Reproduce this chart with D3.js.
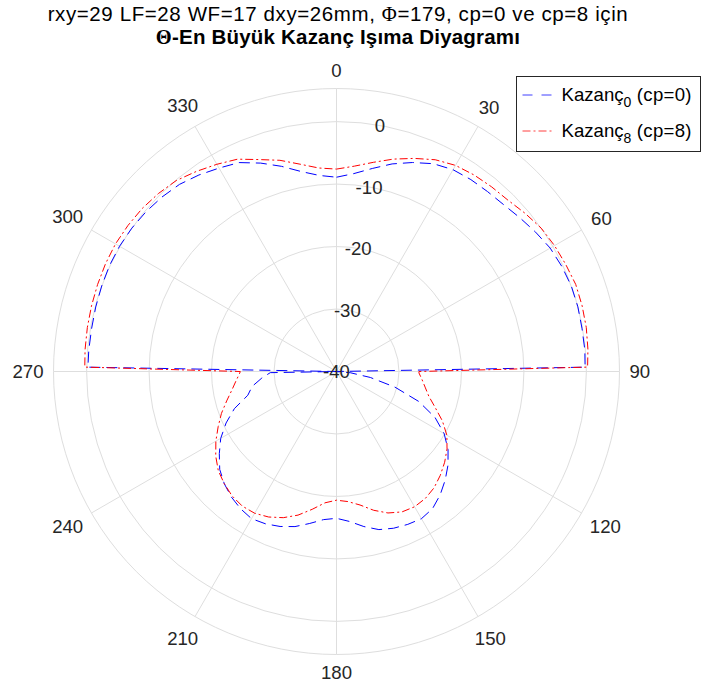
<!DOCTYPE html>
<meta charset="utf-8">
<style>
	body { margin: 0; background: #fff; font-family: "Liberation Sans", Arial, Helvetica, sans-serif; }
	text { fill: #262626; }
	.grid { fill: none; stroke: #dedede; stroke-width: 1; }
</style>
<body>
<svg id="polar" width="703" height="694"></svg>

<script src="https://cdn.jsdelivr.net/npm/d3@7"></script>
<script>
	// theta in degrees (0 at top, clockwise), gain in dB
	var thetaDeg = [0,5,10,15,20,25,30,35,40,45,50,55,60,65,70,75,80,85,89,90,91,
		95,100,105,110,115,120,125,130,135,140,145,150,155,160,165,170,175,180,
		185,190,195,200,205,210,215,220,225,230,235,240,245,250,255,260,265,269,270,271,
		275,280,285,290,295,300,305,310,315,320,325,330,335,340,345,350,355,360];

	var gainCp0 = [-8.9,-8.2,-7.0,-5.6,-4.4,-3.3,-2.7,-2.5,-2.4,-2.2,-1.7,-1.1,-0.5,-0.2,0.0,0.0,-0.1,-0.1,-0.2,-40,-40,
		-37.8,-34.5,-30.3,-26.0,-22.6,-20.1,-18.2,-16.7,-15.4,-14.2,-13.2,-12.8,-13.0,-13.3,-13.8,-14.8,-15.9,-16.5,
		-16.2,-15.3,-14.3,-13.6,-13.1,-12.8,-13.2,-13.8,-14.6,-15.6,-17.1,-18.6,-20.5,-22.6,-25.3,-26.3,-28.0,-29.4,-40,-0.2,
		-0.2,-0.2,-0.1,0.0,0.1,0.1,0.0,-0.2,-0.5,-0.9,-1.6,-2.4,-3.1,-4.5,-6.0,-7.5,-8.5,-8.9];

	var gainCp8 = [-7.6,-7.0,-6.0,-4.8,-3.7,-2.6,-1.9,-1.6,-1.4,-1.2,-0.6,0.0,0.3,0.5,0.75,0.7,0.6,0.4,0.2,-26.8,-26.8,
		-26.3,-25.6,-24.7,-23.2,-21.3,-19.6,-18.4,-17.4,-16.5,-15.7,-15.2,-15.0,-15.2,-15.9,-17.0,-18.3,-19.1,-19.4,
		-18.9,-17.6,-16.2,-15.1,-14.3,-13.8,-13.7,-14.0,-14.6,-15.3,-16.4,-17.7,-19.1,-20.4,-21.8,-23.0,-23.9,-24.5,-24.6,0.3,
		0.4,0.5,0.6,0.7,0.8,0.85,0.75,0.6,0.3,-0.1,-0.9,-1.7,-2.5,-3.9,-5.0,-6.3,-7.3,-7.6];

	var rTicks = [-40, -30, -20, -10, 0];
	var thetaTicks = [0, 30, 60, 90, 120, 150, 180, 210, 240, 270, 300, 330];
	var rLimits = [-40, 5.3];

	var seriesNames = ["Kazanç", "Kazanç"];
	var seriesSubs = ["0", "8"];
	var seriesTails = [" (cp=0)", " (cp=8)"];

	var svg = d3.select("#polar"),
		cx = 336.5, cy = 371.5,
		outerR = 283;

	var r = d3.scaleLinear()
		.domain(rLimits)
		.range([0, outerR])
		.clamp(true);

	var rad = function(deg) { return deg * Math.PI / 180; };

	// titles
	var t1 = svg.append("text")
		.attr("x", 338).attr("y", 21)
		.attr("text-anchor", "middle")
		.style("font-size", "20.5px")
		.style("letter-spacing", "0.6px")
		.style("fill", "#000");
	t1.append("tspan").text("rxy=29 LF=28 WF=17 dxy=26mm, ");
	t1.append("tspan").style("font-family", "'Liberation Serif', 'DejaVu Serif', serif").text("Φ");
	t1.append("tspan").text("=179, cp=0 ve cp=8 için");

	var t2 = svg.append("text")
		.attr("x", 338).attr("y", 44)
		.attr("text-anchor", "middle")
		.style("font-size", "20.5px")
		.style("font-weight", "bold")
		.style("letter-spacing", "0.2px")
		.style("fill", "#000");
	t2.append("tspan").style("font-family", "'Liberation Serif', 'DejaVu Serif', serif").text("Θ");
	t2.append("tspan").text("-En Büyük Kazanç Işıma Diyagramı");

	var g = svg.append("g")
		.attr("transform", "translate(" + cx + "," + cy + ")");

	// grid rings and outer edge
	g.selectAll(".ring")
		.data(rTicks.slice(1).concat([rLimits[1]]))
		.enter().append("circle")
		.attr("class", "grid")
		.attr("r", function(d) { return r(d); });

	// spokes
	g.selectAll(".spoke")
		.data(thetaTicks)
		.enter().append("line")
		.attr("class", "grid")
		.attr("x1", 0).attr("y1", 0)
		.attr("x2", function(d) { return outerR * Math.sin(rad(d)); })
		.attr("y2", function(d) { return -outerR * Math.cos(rad(d)); });

	// theta labels, pushed out by their box size
	g.selectAll(".tlabel")
		.data(thetaTicks)
		.enter().append("text")
		.attr("text-anchor", "middle")
		.attr("dy", "0.36em")
		.style("font-size", "18.6px")
		.text(function(d) { return d; })
		.each(function(d) {
			var hw = this.getComputedTextLength() / 2, hh = 8,
				s = Math.sin(rad(d)), c = Math.cos(rad(d)),
				rr = 293 + hw * Math.abs(s) + hh * Math.abs(c);
			d3.select(this).attr("x", rr * s).attr("y", -rr * c);
		});

	var line = d3.lineRadial()
		.angle(function(d) { return rad(d[0]); })
		.radius(function(d) { return r(d[1]); });

	g.append("path")
		.datum(d3.zip(thetaDeg, gainCp0))
		.attr("d", line)
		.attr("fill", "none")
		.attr("stroke", "#0000ff")
		.attr("stroke-width", 1)
		.attr("stroke-dasharray", "11,6");

	g.append("path")
		.datum(d3.zip(thetaDeg, gainCp8))
		.attr("d", line)
		.attr("fill", "none")
		.attr("stroke", "#ff0000")
		.attr("stroke-width", 1)
		.attr("stroke-dasharray", "8,3,2,3");

	// r labels along 10 deg
	g.selectAll(".rlabel")
		.data(rTicks)
		.enter().append("text")
		.attr("x", function(d) { return r(d) * Math.sin(rad(10)); })
		.attr("y", function(d) { return -r(d) * Math.cos(rad(10)); })
		.attr("text-anchor", "middle")
		.attr("dy", "0.36em")
		.style("font-size", "18.6px")
		.text(function(d) { return d; });

	// legend
	var lg = svg.append("g").attr("transform", "translate(516.5,76.5)");
	lg.append("rect")
		.attr("width", 184).attr("height", 75)
		.attr("fill", "#fff")
		.attr("stroke", "#262626");

	var styles = [["#0000ff", "10,9"], ["#ff0000", "8,3,2,3"]];
	styles.forEach(function(s, i) {
		var y = 18.5 + i * 36;
		lg.append("line")
			.attr("x1", 6).attr("x2", 37)
			.attr("y1", y).attr("y2", y)
			.attr("stroke", s[0])
			.attr("stroke-opacity", 0.75)
			.attr("stroke-dasharray", s[1]);
		var t = lg.append("text")
			.attr("x", 45).attr("y", y + 6)
			.style("font-size", "18.6px")
			.style("fill", "#000");
		t.append("tspan").text(seriesNames[i]);
		t.append("tspan").attr("dy", 6).style("font-size", "14px").text(seriesSubs[i]);
		t.append("tspan").attr("dy", -6).style("letter-spacing", "0.3px").text(seriesTails[i]);
	});
</script>
</body>
